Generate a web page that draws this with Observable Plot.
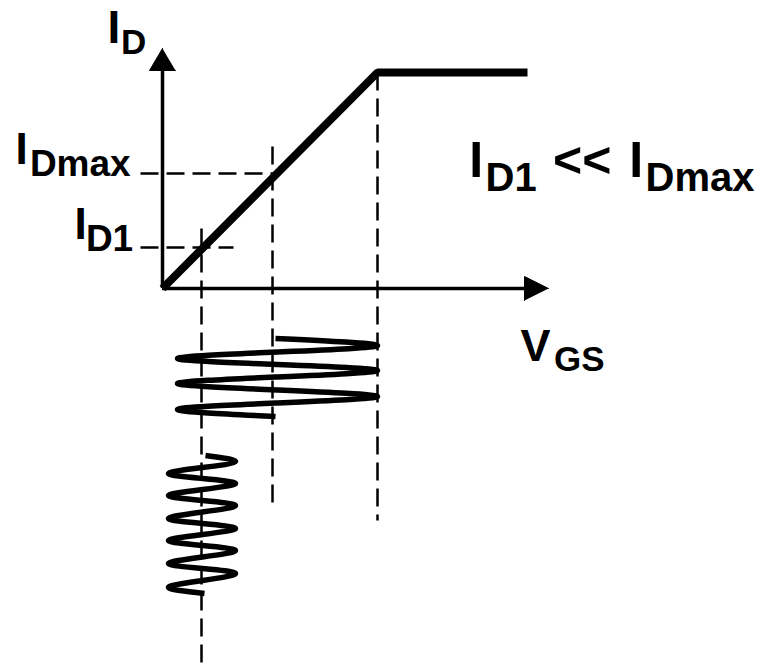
<!DOCTYPE html>
<html><head><meta charset="utf-8">
<script src="https://cdn.jsdelivr.net/npm/d3@7"></script>
<script src="https://cdn.jsdelivr.net/npm/@observablehq/plot@0.6"></script>
<style>body{margin:0;background:#fff;} svg{display:block;}</style>
</head><body><div id="chart"></div>
<script>
// Diagram units: origin at the axes corner, x = V_GS, y = I_D (up), below zero = time axis for the swings
// Transfer characteristic (linear region then saturation)
const curveVGS = [0, 215, 365];
const curveID  = [0, 216, 216];

// Bias levels
const levelNames = ["ID1", "IDmax"];
const levelID  = [41, 115];
const levelVGS = [39, 110];
const vgsSat = 215;

// Axes extents
const axisIDTop = 218, axisIDTip = 240;
const axisVGSEnd = 362, axisVGSTip = 386;

// Large input swing (around IDmax bias), peaks
const bigSwingVGS  = [113, 215, 115, 15, 115, 215, 115, 15, 115, 215, 115, 15, 113];
const bigSwingTime = [-50, -57, -63.5, -70, -76, -82, -88.5, -95, -101.5, -108, -114.5, -121, -128];

// Small input swing (around ID1 bias)
const smallSwingVGS  = [43, 73, 40, 6, 40, 73, 40, 6, 40, 73, 40, 6, 40, 73, 40, 6, 40, 73, 40, 6, 40, 73, 40, 6, 42];
const smallSwingTime = [-167, -173, -179, -185, -190, -195, -201, -207, -212, -217, -223.5, -230, -235, -240, -246, -252, -257, -262, -268.5, -275, -280, -285, -292, -299, -305];

// Guide line extents
const guideBottomID1 = -379, guideTopID1 = 60;
const guideBottomMax = -222, guideTopMax = 142;
const guideBottomSat = -232;
const guideLeft = -22, guideRightID1 = 71;

// Label texts
const labelText = ["I", "D", "I", "Dmax", "I", "D1", "V", "GS", "I", "D1", "<<", "I", "Dmax"];

const segments = [
  {x1: guideLeft, y1: levelID[1], x2: levelVGS[1], y2: levelID[1]},
  {x1: guideLeft, y1: levelID[0], x2: guideRightID1, y2: levelID[0]},
  {x1: levelVGS[0], y1: guideTopID1, x2: levelVGS[0], y2: guideBottomID1},
  {x1: levelVGS[1], y1: guideTopMax, x2: levelVGS[1], y2: guideBottomMax},
  {x1: vgsSat, y1: curveID[1], x2: vgsSat, y2: guideBottomSat}
];

const curve = curveVGS.map((v, i) => ({v, id: curveID[i]}));
const big = bigSwingVGS.map((v, i) => ({v, t: bigSwingTime[i]}));
const small = smallSwingVGS.map((v, i) => ({v, t: smallSwingTime[i]}));
const heads = [
  {k: "y", v: 0, id: axisIDTip}, {k: "y", v: -13, id: axisIDTop}, {k: "y", v: 13, id: axisIDTop},
  {k: "x", v: axisVGSTip, id: 0}, {k: "x", v: axisVGSEnd, id: 12}, {k: "x", v: axisVGSEnd, id: -12}
];

// label layout: [textIndex, x, y(baseline), fontSize]
const layout = [
  [0, -55, 246, 46], [1, -41.5, 235, 35],
  [2, -147, 125, 44], [3, -132.6, 113, 37],
  [4, -88, 50, 44], [5, -76.6, 38, 37],
  [6, 358, -72, 45], [7, 391.5, -82, 35],
  [8, 306.8, 112, 50], [9, 323, 98, 40], [10, 390.5, 112, 50], [11, 466.8, 112, 50], [12, 483, 98, 40]
];

const font = "'Liberation Sans', Arial, Helvetica, sans-serif";
const textMarks = layout.map(([i, lx, ly, fs]) =>
  Plot.text([{x: lx, y: ly, s: labelText[i]}], {
    x: "x", y: "y", text: "s", fontSize: fs, fontWeight: "bold", fontFamily: font,
    textAnchor: "start", lineAnchor: "bottom", fill: "black"
  })
);

const chart = Plot.plot({
  width: 770, height: 667,
  marginTop: 0, marginRight: 0, marginBottom: 0, marginLeft: 0,
  x: {domain: [-162, 608], range: [0, 770], axis: null},
  y: {domain: [-379, 288], range: [667, 0], axis: null},
  style: {background: "white"},
  marks: [
    Plot.link(segments, {x1: "x1", y1: "y1", x2: "x2", y2: "y2", stroke: "black", strokeWidth: 2.5, strokeDasharray: "18,8"}),
    Plot.ruleX([0], {y1: 0, y2: axisIDTop, stroke: "black", strokeWidth: 3.5}),
    Plot.ruleY([0], {x1: 0, x2: axisVGSEnd, stroke: "black", strokeWidth: 3.5}),
    Plot.line(heads, {x: "v", y: "id", z: "k", fill: "black", stroke: "black", strokeWidth: 1}),
    Plot.line(curve, {x: "v", y: "id", stroke: "black", strokeWidth: 8, strokeLinejoin: "miter", strokeLinecap: "butt"}),
    Plot.line(big, {x: "v", y: "t", curve: "natural", stroke: "black", strokeWidth: 5.5, strokeLinejoin: "round", strokeLinecap: "butt"}),
    Plot.line(small, {x: "v", y: "t", curve: "natural", stroke: "black", strokeWidth: 5.5, strokeLinejoin: "round", strokeLinecap: "butt"}),
    ...textMarks
  ]
});
document.getElementById("chart").append(chart);
</script>
</body></html>
